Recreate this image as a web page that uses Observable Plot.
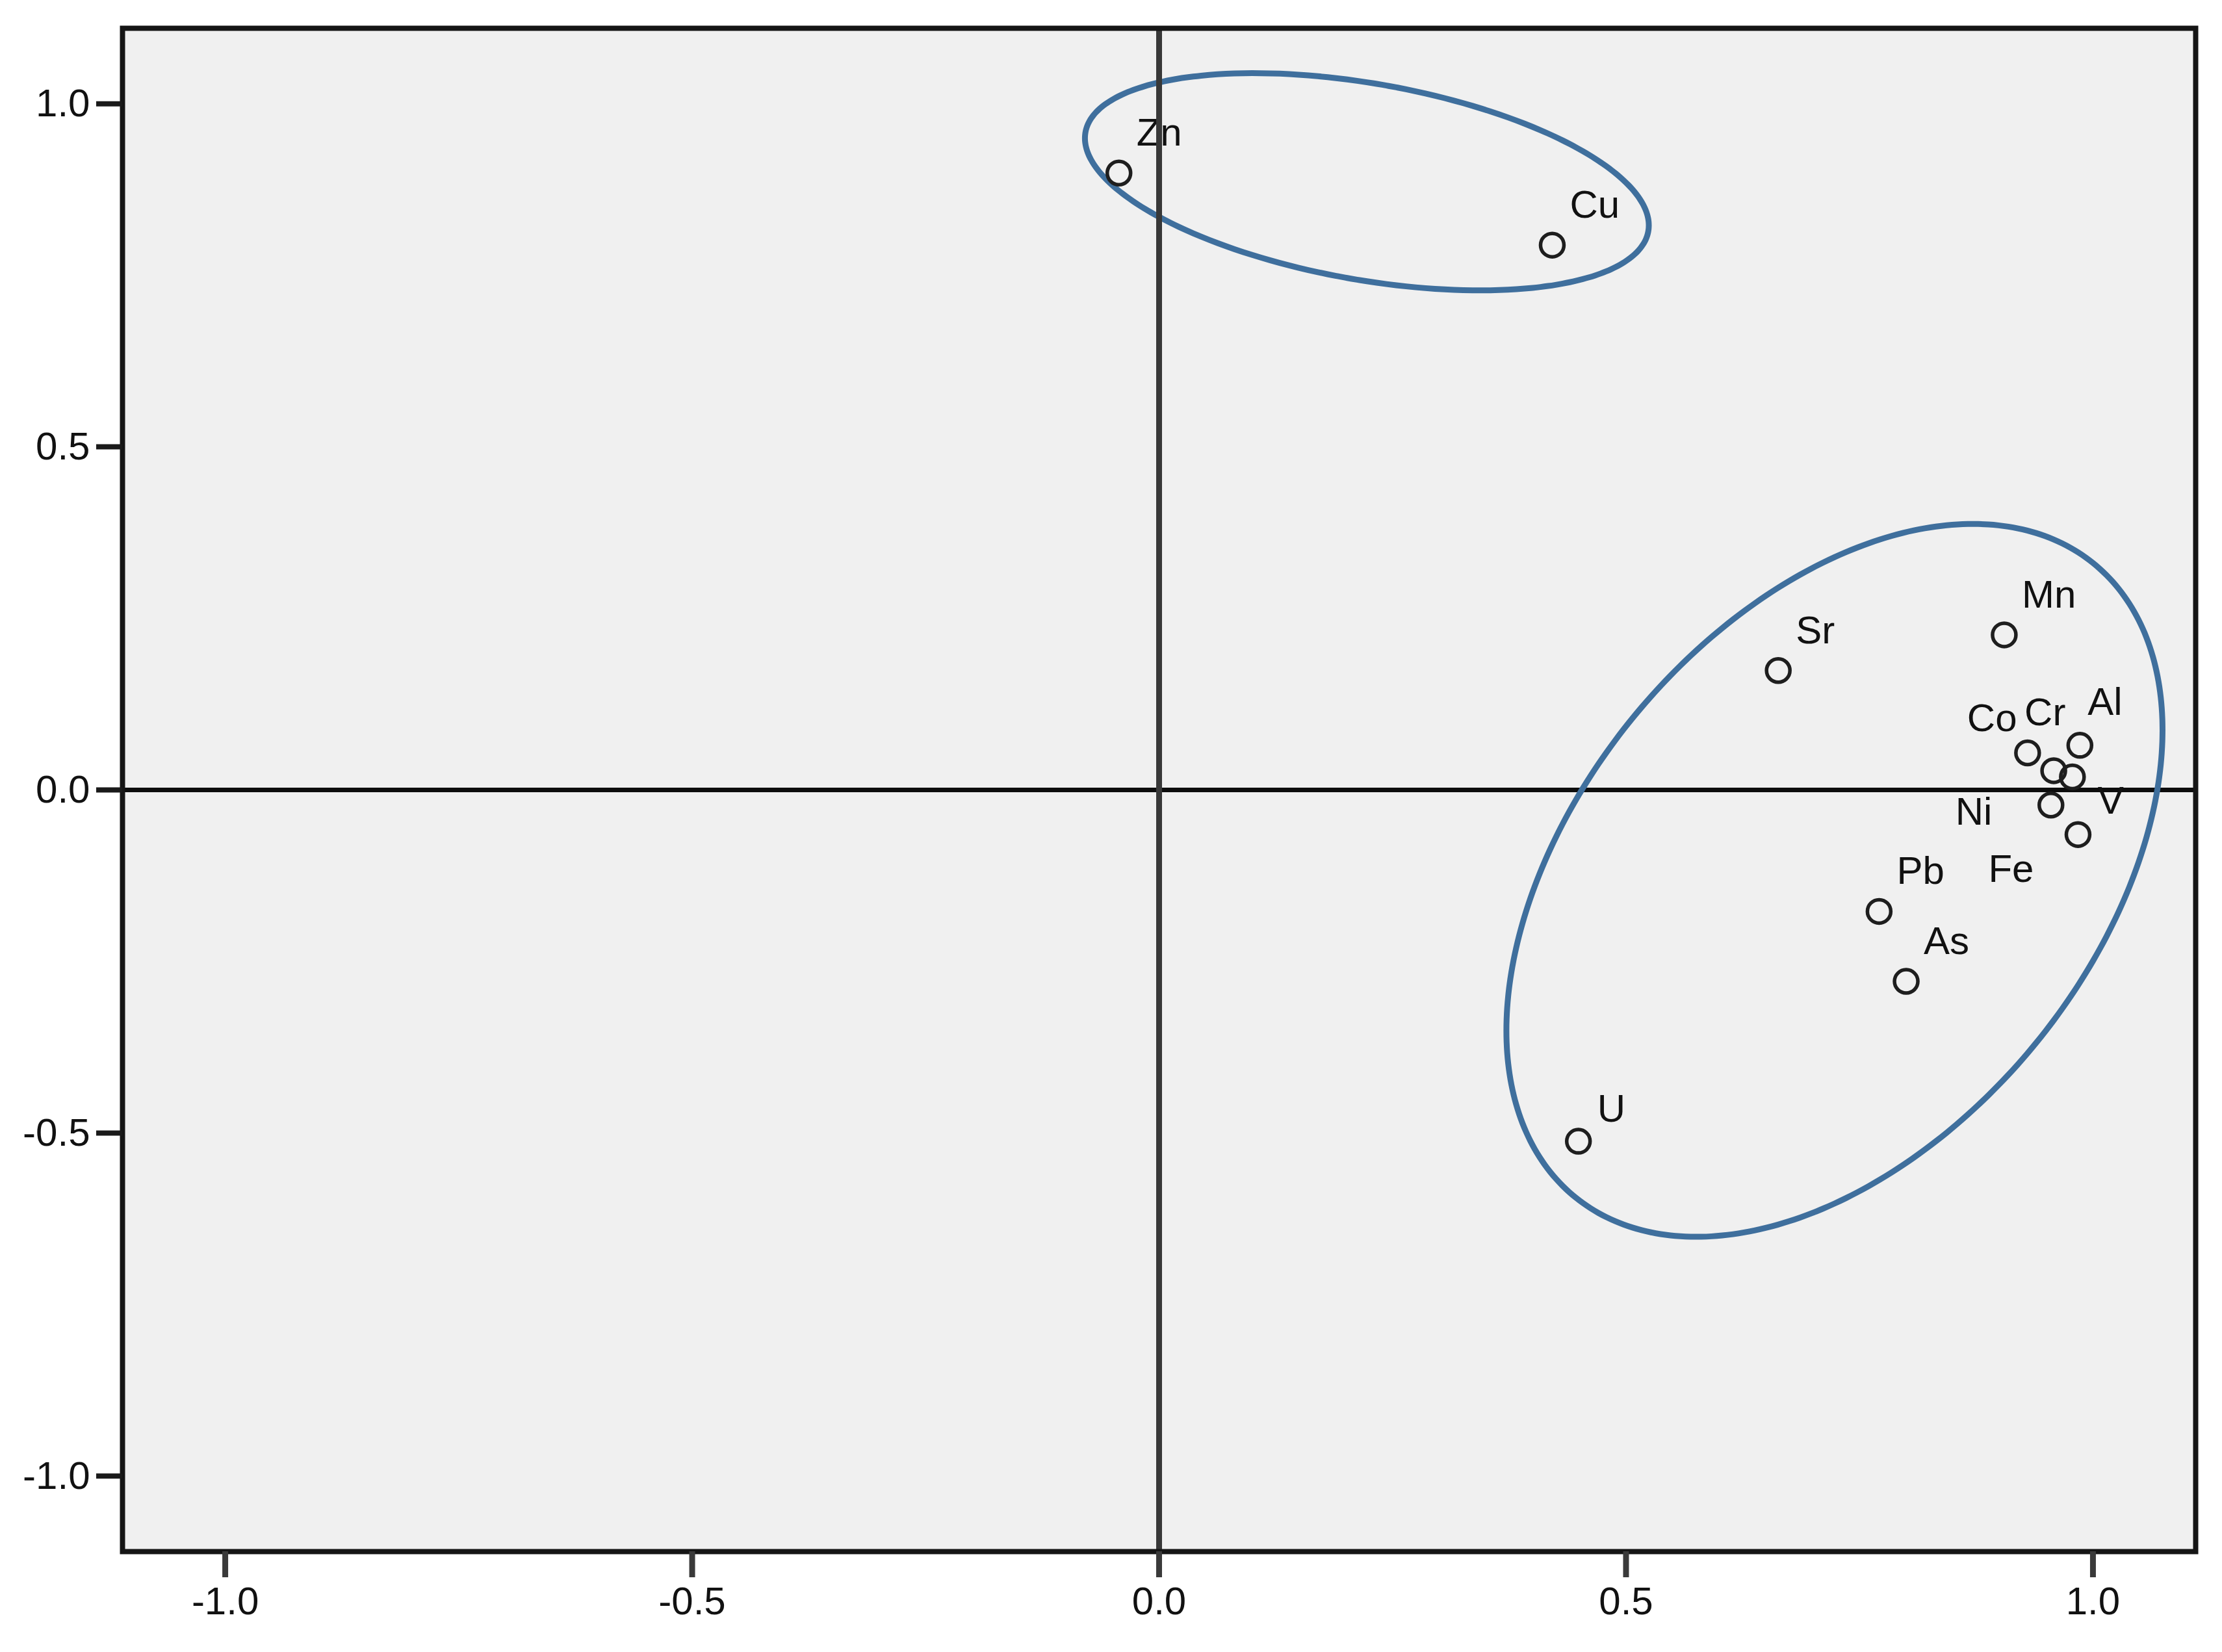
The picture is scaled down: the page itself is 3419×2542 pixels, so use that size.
<!DOCTYPE html>
<html>
<head>
<meta charset="utf-8">
<script src="https://cdn.jsdelivr.net/npm/d3@7"></script>
<script src="https://cdn.jsdelivr.net/npm/@observablehq/plot@0.6"></script>
<style>
  html, body { margin: 0; padding: 0; background: #ffffff; }
  #chart svg { display: block; }
</style>
</head>
<body>
<div id="chart"></div>
<script>
// ---- Data (component loadings) ----
const elements = ["Zn", "Cu", "Sr", "Mn", "Co", "Cr", "Al", "V", "Ni", "Fe", "Pb", "As", "U"];
const component1 = [-0.043, 0.421, 0.663, 0.905, 0.930, 0.958, 0.986, 0.978, 0.955, 0.984, 0.771, 0.800, 0.449];
const component2 = [0.899, 0.794, 0.174, 0.226, 0.054, 0.028, 0.065, 0.019, -0.022, -0.065, -0.177, -0.279, -0.512];

const axisTicks = [-1.0, -0.5, 0.0, 0.5, 1.0];

// Grouping ellipses (centre, two conjugate semi-diameters) in data units
const groupEllipses = [
  { name: "Zn-Cu", cx: 0.2225, cy: 0.8863, ux: 0.3019, uy: -0.0635, vx: 0, vy: 0.1450 },
  { name: "main",  cx: 0.7232, cy: -0.1318, ux: 0.3513, uy: 0.2190, vx: 0, vy: 0.4710 }
];

// ---- Layout / style (pixels) ----
const W = 3419, H = 2542;
const defaultNudge = { dx: 27, dy: -42 };
const labelNudge = {
  U:  { dx: 29, dy: -30 },
  Co: { dx: -93, dy: -33 },
  Cr: { dx: -45, dy: -70 },
  Al: { dx: 12, dy: -47 },
  Ni: { dx: -147, dy: 30 },
  V:  { dx: 39, dy: 57 },
  Fe: { dx: -138, dy: 73 }
};

const points = elements.map((e, i) => ({ name: e, x: component1[i], y: component2[i] }));

const ellipsePaths = groupEllipses.flatMap(el =>
  d3.range(0, 361, 2).map(deg => {
    const t = deg * Math.PI / 180;
    return {
      group: el.name,
      x: el.cx + el.ux * Math.cos(t) + el.vx * Math.sin(t),
      y: el.cy + el.uy * Math.cos(t) + el.vy * Math.sin(t)
    };
  })
);

const font = "'Liberation Sans', Arial, Helvetica, sans-serif";
const fmt = d => d.toFixed(1);

const labelMarks = points.map(p => {
  const n = labelNudge[p.name] || defaultNudge;
  return Plot.text([p], {
    x: "x", y: "y", text: "name",
    textAnchor: "start", lineAnchor: "bottom",
    dx: n.dx, dy: n.dy,
    fontSize: 60, fill: "#111"
  });
});

const chart = Plot.plot({
  width: W,
  height: H,
  marginLeft: 188,
  marginRight: 41,
  marginTop: 43,
  marginBottom: 155,
  style: { fontFamily: font, background: "#ffffff", color: "#111" },
  x: { domain: [-1.11, 1.11] },
  y: { domain: [-1.11, 1.11] },
  marks: [
    Plot.frame({ fill: "#f0f0f0", stroke: null }),
    Plot.ruleY([0], { stroke: "#0d0d0d", strokeWidth: 7 }),
    Plot.line(ellipsePaths, { x: "x", y: "y", z: "group", stroke: "#3f6f9d", strokeWidth: 9, curve: "catmull-rom" }),
    Plot.dot(points, { x: "x", y: "y", r: 18, stroke: "#1e1e1e", strokeWidth: 5.5, fill: "none" }),
    ...labelMarks,
    Plot.ruleX([0], { stroke: "#383838", strokeWidth: 9 }),
    Plot.frame({ stroke: "#151515", strokeWidth: 8 }),
    Plot.axisX({ ticks: axisTicks, tickFormat: fmt, tickSize: 40, tickPadding: 14, fontSize: 60, strokeWidth: 9, stroke: "#3a3a3a", label: null }),
    Plot.axisY({ ticks: axisTicks, tickFormat: fmt, tickSize: 40, tickPadding: 10, fontSize: 60, strokeWidth: 8, stroke: "#1a1a1a", label: null })
  ]
});

document.getElementById("chart").appendChild(chart);
</script>
</body>
</html>
